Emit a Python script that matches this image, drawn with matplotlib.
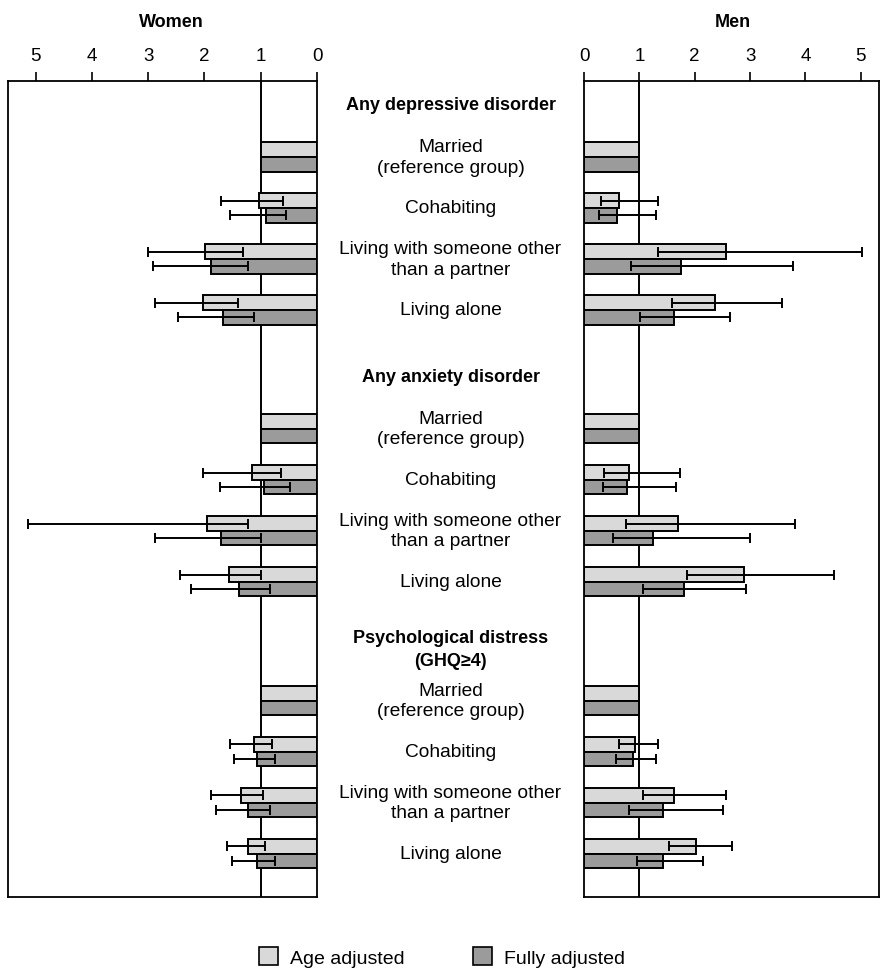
import numpy as np
import matplotlib
matplotlib.use("Agg")
import matplotlib.pyplot as plt
import matplotlib.patches as mpatches

plt.rcParams["font.family"] = ["Liberation Sans", "DejaVu Sans"]

# ── data (odds ratios with 95% CI; married = reference) ─────────────────────
sections = ["Any depressive disorder", "Any anxiety disorder",
            "Psychological distress\n(GHQ\u22654)"]
rows = ["Married\n(reference group)", "Cohabiting",
        "Living with someone other\nthan a partner", "Living alone"]

nan = np.nan

women_age    = [1.0, 1.03, 1.99, 2.02,  1.0, 1.16, 1.95, 1.57,  1.0, 1.12, 1.35, 1.22]
women_age_lo = [nan, 0.61, 1.31, 1.41,  nan, 0.64, 1.22, 1.00,  nan, 0.80, 0.96, 0.93]
women_age_hi = [nan, 1.70, 3.01, 2.88,  nan, 2.02, 5.14, 2.43,  nan, 1.54, 1.89, 1.60]

women_full    = [1.0, 0.90, 1.89, 1.67,  1.0, 0.94, 1.70, 1.38,  1.0, 1.06, 1.23, 1.06]
women_full_lo = [nan, 0.55, 1.22, 1.12,  nan, 0.48, 1.00, 0.84,  nan, 0.74, 0.84, 0.74]
women_full_hi = [nan, 1.54, 2.92, 2.47,  nan, 1.73, 2.88, 2.24,  nan, 1.48, 1.79, 1.51]

men_age    = [1.0, 0.63, 2.57, 2.37,  1.0, 0.82, 1.69, 2.89,  1.0, 0.92, 1.63, 2.03]
men_age_lo = [nan, 0.30, 1.34, 1.59,  nan, 0.37, 0.75, 1.86,  nan, 0.63, 1.07, 1.54]
men_age_hi = [nan, 1.34, 5.02, 3.58,  nan, 1.73, 3.81, 4.52,  nan, 1.34, 2.57, 2.68]

men_full    = [1.0, 0.59, 1.76, 1.63,  1.0, 0.78, 1.24, 1.80,  1.0, 0.89, 1.43, 1.43]
men_full_lo = [nan, 0.28, 0.85, 1.01,  nan, 0.35, 0.52, 1.07,  nan, 0.58, 0.81, 0.95]
men_full_hi = [nan, 1.30, 3.77, 2.64,  nan, 1.66, 3.00, 2.93,  nan, 1.30, 2.51, 2.15]

LIGHT = "#d9d9d9"
DARK = "#9b9b9b"
FS = 13.8
FS_BOLD = 13

# ── layout in row units ──────────────────────────────────────────────────────
SECTION_STEP = 5.33
BAR_H = 0.285
centers = np.array([s * SECTION_STEP + r for s in range(len(sections)) for r in range(len(rows))])

fig = plt.figure(figsize=(8.8, 9.7), dpi=100)
top, bottom = 1 - 82 / 970, 1 - 898 / 970
ax_w = fig.add_axes([8 / 880, bottom, 309 / 880, top - bottom])
ax_m = fig.add_axes([317 / 880, bottom, 267 / 880, top - bottom], sharey=ax_w)
ax_r = fig.add_axes([584 / 880, bottom, 295 / 880, top - bottom], sharey=ax_w)


def draw_panel(ax, age, age_lo, age_hi, full, full_lo, full_hi, xmax, title, title_x):
    age, full = np.array(age), np.array(full)
    age_lo, age_hi = np.array(age_lo), np.array(age_hi)
    full_lo, full_hi = np.array(full_lo), np.array(full_hi)

    ax.axvline(1, color="black", lw=1.4, zorder=1)
    for vals, lo, hi, off, col in [(age, age_lo, age_hi, -BAR_H / 2, LIGHT),
                                   (full, full_lo, full_hi, BAR_H / 2, DARK)]:
        y = centers + off
        ax.barh(y, vals, height=BAR_H, color=col, edgecolor="black", lw=1.4, zorder=2)
        ok = ~np.isnan(lo)
        ax.errorbar(vals[ok], y[ok], xerr=[vals[ok] - lo[ok], hi[ok] - vals[ok]],
                    fmt="none", ecolor="black", elinewidth=1.4, capsize=3.8,
                    capthick=1.4, zorder=3)

    ax.set_xlim(0, xmax)
    ax.set_xticks(range(6))
    ax.xaxis.tick_top()
    ax.tick_params(axis="x", direction="out", length=6.5, width=1.2, pad=6,
                   labelsize=13.5)
    ax.set_yticks([])
    for sp in ax.spines.values():
        sp.set_linewidth(1.3)
    ax.set_title(title, fontsize=FS_BOLD, fontweight="bold", pad=15, x=title_x)


draw_panel(ax_w, women_age, women_age_lo, women_age_hi,
           women_full, women_full_lo, women_full_hi, 5.49, "Women", (171 - 8) / 309)
ax_w.invert_xaxis()
draw_panel(ax_r, men_age, men_age_lo, men_age_hi,
           men_full, men_full_lo, men_full_hi, 5.33, "Men", (733 - 584) / 295)

ax_w.set_ylim(14.51, -1.49)

# centre labels
ax_m.set_xlim(0, 1)
ax_m.axis("off")
for s, sec in enumerate(sections):
    ax_m.text(0.5, s * SECTION_STEP - 1.02, sec, ha="center", va="center",
              fontsize=FS_BOLD, fontweight="bold", linespacing=1.45)
for c, lab in zip(centers, rows * len(sections)):
    ax_m.text(0.5, c, lab, ha="center", va="center", fontsize=FS, linespacing=1.25)

handles = [mpatches.Patch(facecolor=LIGHT, edgecolor="black", lw=1.2, label="Age adjusted"),
           mpatches.Patch(facecolor=DARK, edgecolor="black", lw=1.2, label="Fully adjusted")]
fig.legend(handles=handles, loc="center", bbox_to_anchor=(442 / 880, 1 - 958 / 970),
           ncol=2, frameon=False, fontsize=14, handlelength=1.0, handleheight=1.0,
           columnspacing=3.5, handletextpad=0.6, borderpad=0)

fig.savefig("out.png", dpi=100)
